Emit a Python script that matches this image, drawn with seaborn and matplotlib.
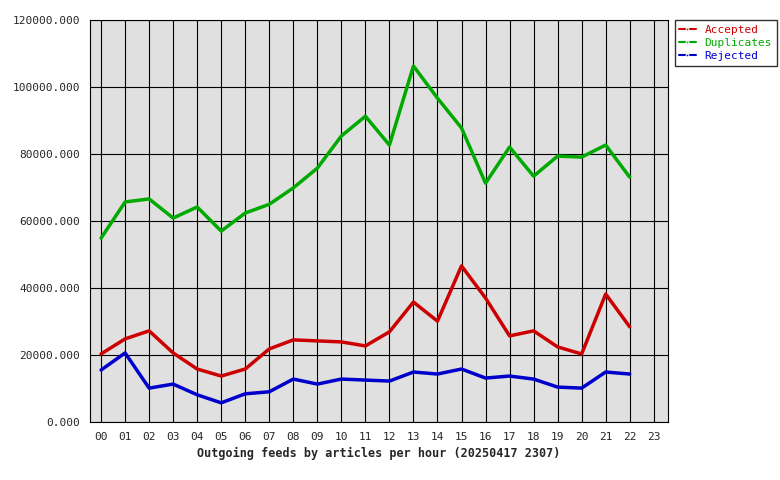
import pandas as pd
import matplotlib
matplotlib.use("Agg")
import matplotlib.pyplot as plt
import seaborn as sns
from matplotlib.ticker import FuncFormatter

hours = list(range(23))
hour_labels = [f"{h:02d}" for h in range(24)]
accepted = [20300, 24800, 27200, 20600, 15800, 13700, 15800, 21800, 24500, 24200, 23900, 22700,
            26900, 35800, 30100, 46600, 37000, 25700, 27200, 22400, 20300, 38200, 28400]
duplicates = [54900, 65700, 66600, 60900, 64200, 57000, 62400, 65000, 69900, 75800, 85400, 91300,
              82700, 106300, 96700, 87800, 71300, 82100, 73400, 79400, 79100, 82700, 73100]
rejected = [15500, 20600, 10100, 11300, 8100, 5700, 8400, 9000, 12800, 11300, 12800, 12500,
            12200, 14900, 14300, 15800, 13100, 13700, 12800, 10400, 10100, 14900, 14300]

df = pd.DataFrame({"hour": hours * 3,
                   "value": accepted + duplicates + rejected,
                   "series": ["Accepted"] * 23 + ["Duplicates"] * 23 + ["Rejected"] * 23})

sns.set_style("white")
plt.rcParams['font.family'] = ['DejaVu Sans Mono']

fig = plt.figure(figsize=(7.8, 4.8), dpi=100)
ax = fig.add_axes([0.1154, 0.121, 0.7406, 0.837])
ax.set_facecolor("#e0e0e0")
palette = {"Accepted": "#cc0000", "Duplicates": "#00aa00", "Rejected": "#0000cc"}
sns.lineplot(data=df, x="hour", y="value", hue="series", palette=palette, linewidth=2.5,
             ax=ax, marker=None)

ax.set_xlim(-0.46, 23.58)
ax.set_ylim(0, 120000)
ax.set_xticks(range(24))
ax.set_xticklabels(hour_labels, fontsize=8)
ax.set_yticks(range(0, 120001, 20000))
ax.yaxis.set_major_formatter(FuncFormatter(lambda v, p: f"{v:.3f}"))
ax.tick_params(axis="y", labelsize=8)
ax.grid(True, color="black", linewidth=0.8)
ax.set_axisbelow(True)
for s in ax.spines.values():
    s.set_color("black")
ax.set_ylabel("")
ax.set_xlabel("Outgoing feeds by articles per hour (20250417 2307)", fontsize=8.5,
              fontweight="bold")

handles, labels = ax.get_legend_handles_labels()
for h in handles:
    h.set_linewidth(1.5)
    h.set_marker("o")
    h.set_markersize(2)
leg = ax.legend(handles, labels, loc="upper left", bbox_to_anchor=(1.012, 1.0), fontsize=8,
                frameon=True, fancybox=False, edgecolor="black", handlelength=1.5,
                borderaxespad=0, labelspacing=0.3)
for t, c in zip(leg.get_texts(), palette.values()):
    t.set_color(c)

fig.savefig("out.png", dpi=100)
